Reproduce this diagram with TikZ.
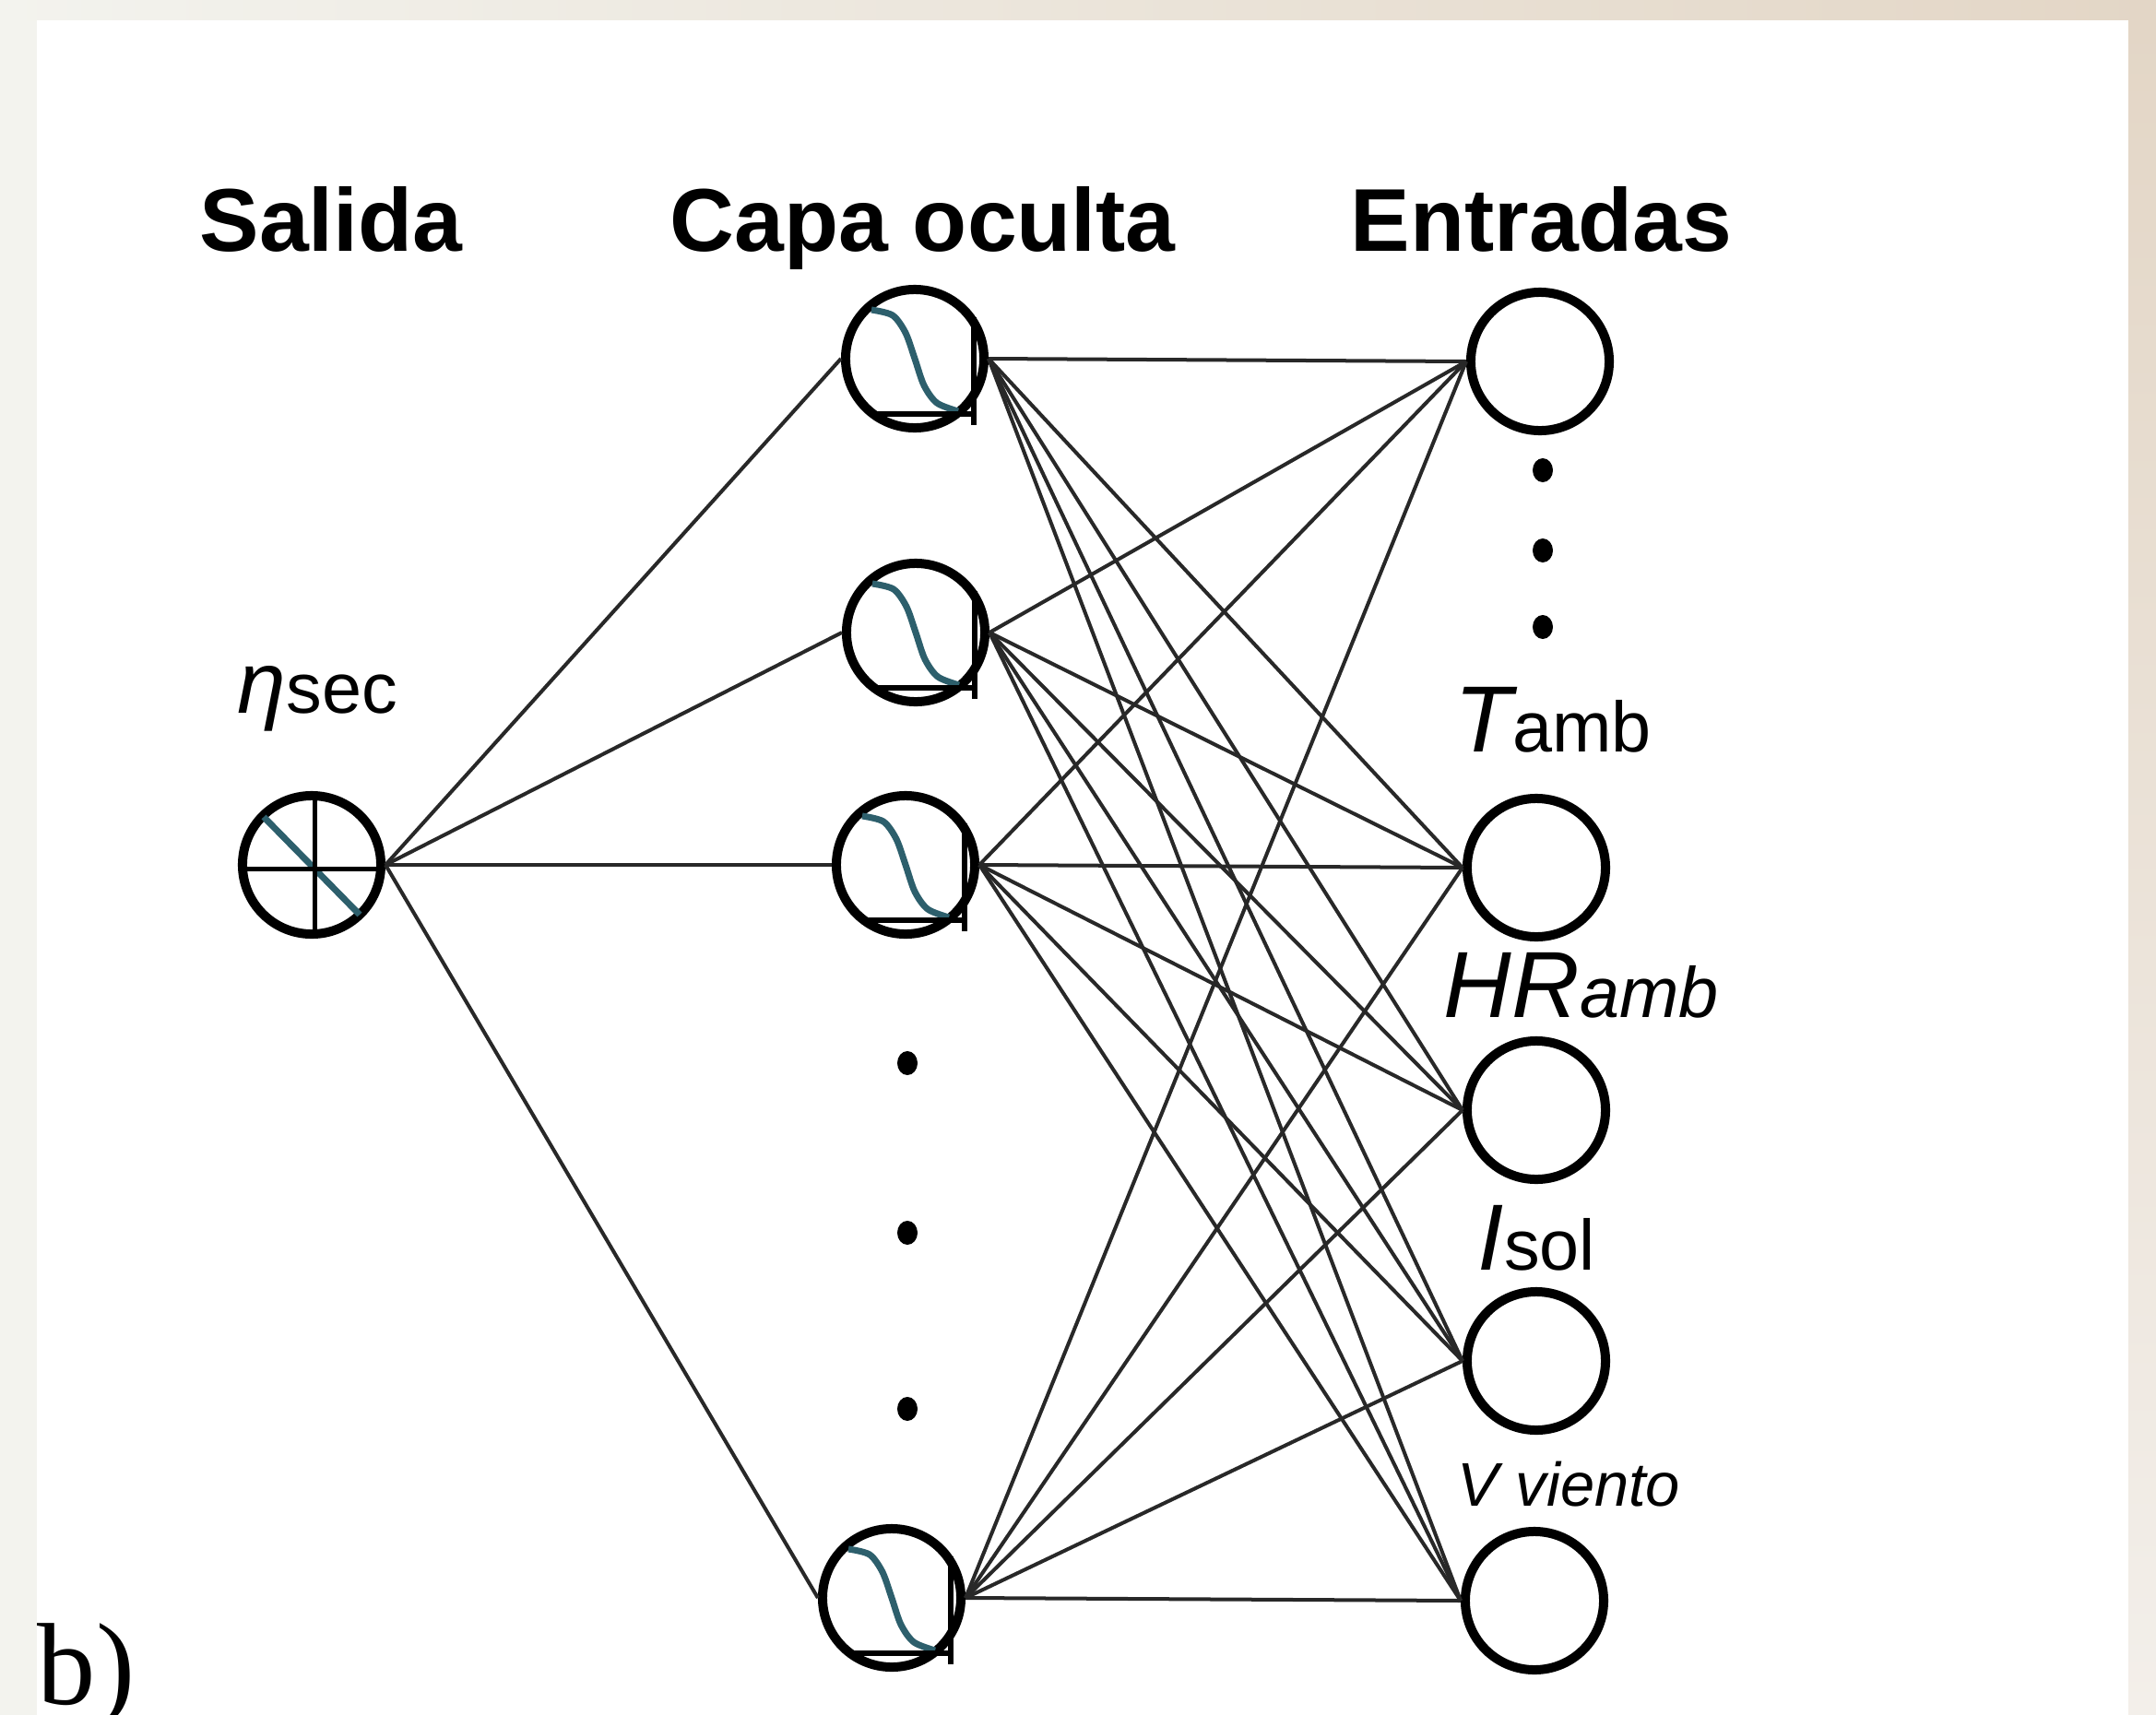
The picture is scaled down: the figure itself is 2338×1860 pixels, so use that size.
\documentclass[tikz,border=0pt]{standalone}
\usepackage{fontspec}
\newfontfamily\arialf{Liberation Sans}
\newfontfamily\serifb{Liberation Serif}
\usetikzlibrary{calc,shapes.geometric}
\definecolor{sigc}{RGB}{45,95,108}
\definecolor{edgec}{RGB}{40,40,40}
\definecolor{bgl}{RGB}{243,243,238}
\definecolor{bgr}{RGB}{227,214,198}
\definecolor{bgrb}{RGB}{243,239,234}
\newcommand\sigsym[1]{%
  \begin{scope}[shift={(#1)}]
    \draw[sigline] plot[smooth] coordinates {(-47,-53) (-24,-47) (-10,-28) (0,0) (10,29) (24,48) (47,57)};
    \draw[axline] (-44,60) -- (64,60) (64,-45) -- (64,72);
  \end{scope}}
\begin{document}
\begin{tikzpicture}[x=0.01cm,y=-0.01cm,
  neuron/.style={circle,draw=black,fill=white,line width=0.1cm,minimum size=1.5cm,inner sep=0pt},
  conn/.style={draw=edgec,line width=0.04cm},
  sigline/.style={draw=sigc,line width=0.07cm},
  axline/.style={draw=black,line width=0.06cm},
  hdr/.style={anchor=base west,inner sep=0pt,font=\arialf\bfseries\fontsize{27.5}{30}\selectfont},
  lbl/.style={anchor=base west,inner sep=0pt,font=\arialf},
  dotn/.style={ellipse,fill=black,inner sep=0pt,minimum width=0.22cm,minimum height=0.26cm}
]
\useasboundingbox (0,0) rectangle (2338,1860);
% background
\fill[bgl] (0,0) rectangle (2338,1860);
\shade[left color=bgl,right color=bgr] (0,0) rectangle (2338,22);
\shade[top color=bgr,bottom color=bgrb] (2308,22) rectangle (2338,1860);
\fill[white] (40,22) rectangle (2308,1860);

% headers
\node[hdr] (hs) at (216,272) {Salida};
\node[hdr] (hc) at (726,272) {Capa oculta};
\node[hdr] (he) at (1464,272) {Entradas};

% nodes
\node[neuron] (o) at (338,938) {};
\node[neuron] (h1) at (992,389) {};
\node[neuron] (h2) at (993,686) {};
\node[neuron] (h3) at (982,938) {};
\node[neuron] (h4) at (967,1733) {};
\node[neuron] (i1) at (1670,392) {};
\node[neuron] (i2) at (1666,941) {};
\node[neuron] (i3) at (1666,1204) {};
\node[neuron] (i4) at (1666,1476) {};
\node[neuron] (i5) at (1664,1736) {};

% connections
\foreach \h in {h1,h2,h3,h4} \draw[conn] (o.east) -- (\h.west);
\foreach \h in {h1,h2,h3,h4} \foreach \k in {1,...,5} \draw[conn] (\h.east) -- (i\k.west);

% symbols
\begin{scope}[shift={(o)}]
  \draw[sigline] (-52,-52) -- (52,54);
  \draw[black,line width=0.05cm] (3,-75) -- (3,75) (-75,4) -- (75,4);
\end{scope}
\sigsym{h1}
\sigsym{h2}
\sigsym{h3}
\sigsym{h4}

% dots
\node[dotn] (hd1) at (984,1153) {};
\node[dotn] (hd2) at (984,1337) {};
\node[dotn] (hd3) at (984,1528) {};
\node[dotn] (id1) at (1673,510) {};
\node[dotn] (id2) at (1673,597) {};
\node[dotn] (id3) at (1673,680) {};

% labels
\node[lbl] (leta) at (257,773) {{\fontsize{27}{30}\selectfont\itshape η}{\fontsize{22}{26}\selectfont sec}};
\node[lbl] (ltamb) at (1577,815) {{\fontsize{29}{32}\selectfont\itshape T}{\fontsize{22}{26}\selectfont amb}};
\node[lbl] (lhr) at (1565,1103) {\itshape{\fontsize{29}{32}\selectfont HR}{\fontsize{22}{26}\selectfont amb}};
\node[lbl] (lisol) at (1602,1377) {{\fontsize{29}{32}\selectfont\itshape I}{\fontsize{22}{26}\selectfont sol}};
\node[lbl] (lv) at (1580,1633) {\itshape\fontsize{19}{22}\selectfont V viento};

\node[anchor=base west,inner sep=0pt,font=\serifb\fontsize{36}{40}\selectfont] (lb) at (40,1848) {b)};
\end{tikzpicture}
\end{document}
